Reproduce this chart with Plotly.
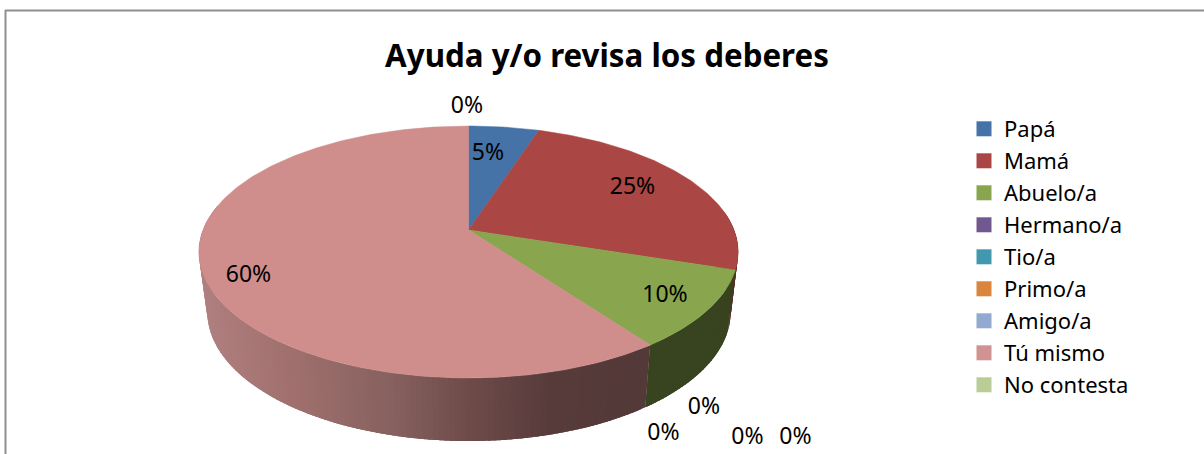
import numpy as np
import plotly.graph_objects as go

# ---- data ----
categories = ["Papá", "Mamá", "Abuelo/a", "Hermano/a", "Tio/a", "Primo/a", "Amigo/a", "Tú mismo", "No contesta"]
values = [5, 25, 10, 0, 0, 0, 0, 60, 0]
title_text = "Ayuda y/o revisa los deberes"

# ---- style ----
colors = ["#4572A7", "#AA4643", "#89A54E", "#71588F", "#4198AF", "#DB843D", "#93A9CF", "#D09391", "#B9CD96"]
top_colors = ["#4572A7", "#AA4643", "#89A54E", "#71588F", "#4198AF", "#DB843D", "#93A9CF", "#CF8D8B", "#B9CD96"]
side_stops_x = [205, 300, 400, 468, 560, 650]
side_stops_rgb = [(176, 128, 128), (160, 112, 110), (135, 98, 96), (114, 78, 76), (88, 60, 60), (84, 57, 57)]
side_flat = {1: "#5c2a28", 2: "#38431f"}
label_x = [488, 632.5, 665, 704, 663.5, 747.5, 795.5, 248.5, 467]
label_y = [154, 188, 296, 408, 434, 438, 438, 276, 107]
FONT = "Noto Sans"


# 3D projection of the pie disc onto the page
CX, APEX_Y, RX, C, A = 468.5, 230.0, 265.5, 0.1746, -82.0


def top_rim(theta):
    sx, cy = np.sin(theta), np.cos(theta)
    d = 1 + C * cy
    return CX + RX * sx / d, (A * cy + APEX_Y) / d


def bottom_rim(theta):
    x, y = top_rim(theta)
    return CX + 0.5 + (x - CX) * 262 / 270, 312 + (y - 252) * 129 / 126


def shade(x):
    rgb = [np.interp(x, side_stops_x, [s[i] for s in side_stops_rgb]) for i in range(3)]
    return "rgb(%d,%d,%d)" % tuple(int(v) for v in rgb)


fig = go.Figure()
total = sum(values)
cum = np.cumsum([0] + values) / total * 2 * np.pi
VIS_FROM, VIS_TO = np.radians(80), np.radians(282)

# side wall: overlapping strips so no seams show between them
for i, v in enumerate(values):
    if v == 0:
        continue
    a0, a1 = max(cum[i], VIS_FROM), min(cum[i + 1], VIS_TO)
    if a1 <= a0:
        continue
    n = max(1, int(np.degrees(a1 - a0)))
    edges = np.linspace(a0, a1, n + 1)
    # draw from the far end back so that each slice keeps its own start edge crisp
    for k in range(n - 1, -1, -1):
        t0, t1 = edges[k], min(edges[k] + 2.5 * (edges[1] - edges[0]), a1)
        tt = np.linspace(t0, t1, 4)
        xt, yt = top_rim(tt)
        xb, yb = bottom_rim(tt[::-1])
        col = side_flat.get(i) or shade(xt[0])
        fig.add_trace(go.Scatter(
            x=np.r_[xt, xb, xt[0]], y=np.r_[yt, yb, yt[0]], mode="lines", fill="toself",
            fillcolor=col, line=dict(width=0), hoverinfo="skip", showlegend=False))

# top face
for i, v in enumerate(values):
    if v == 0:
        continue
    tt = np.linspace(cum[i], cum[i + 1], max(3, int(v * 4)))
    xr, yr = top_rim(tt)
    fig.add_trace(go.Scatter(
        x=np.r_[CX, xr, CX], y=np.r_[APEX_Y, yr, APEX_Y], mode="lines", fill="toself",
        fillcolor=top_colors[i], line=dict(color=top_colors[i], width=0.5),
        name=categories[i], hoverinfo="name", showlegend=False))

# data labels
fig.add_trace(go.Scatter(
    x=label_x, y=label_y, mode="text", text=[f"{round(v / total * 100)}%" for v in values],
    textposition="middle center", textfont=dict(family=FONT, size=23, color="#000000"),
    hoverinfo="skip", showlegend=False))

# legend
for i, c in enumerate(categories):
    fig.add_trace(go.Scatter(
        x=[None], y=[None], mode="markers", name=c, legendgroup=c,
        marker=dict(symbol="square", size=15, color=colors[i])))

fig.update_layout(
    width=1204, height=454, autosize=False,
    margin=dict(l=0, r=0, t=0, b=0),
    paper_bgcolor="white", plot_bgcolor="white",
    title=dict(text=f"<b>{title_text}</b>", x=607 / 1204, xanchor="center", y=1 - 56 / 454, yanchor="middle",
               font=dict(family=FONT, size=31.3, color="#000000")),
    xaxis=dict(range=[0, 1204], visible=False, fixedrange=True),
    yaxis=dict(range=[454, 0], visible=False, fixedrange=True),
    legend=dict(x=964 / 1204, y=1 - 108 / 454, xanchor="left", yanchor="top",
                font=dict(family=FONT, size=22, color="#000000"),
                tracegroupgap=0.4, bgcolor="rgba(0,0,0,0)", itemclick=False, itemdoubleclick=False),
    shapes=[
        dict(type="line", xref="x", yref="y", x0=5.5, x1=5.5, y0=10, y1=454, line=dict(color="#8f8f8f", width=2)),
        dict(type="line", xref="x", yref="y", x0=5, x1=1204, y0=10.5, y1=10.5, line=dict(color="#8f8f8f", width=2)),
    ],
)
fig.write_html("out.html", config=dict(displayModeBar=False),
               post_script="document.body.style.margin='0';document.body.style.overflow='hidden';")
